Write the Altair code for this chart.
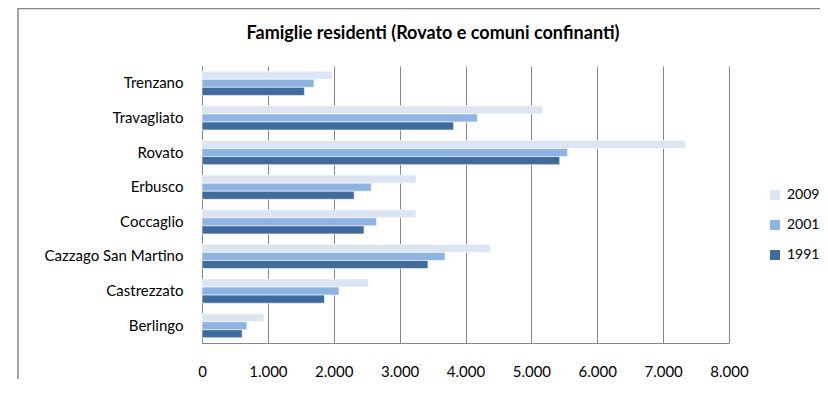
import altair as alt
import pandas as pd

comuni = ["Trenzano", "Travagliato", "Rovato", "Erbusco", "Coccaglio",
          "Cazzago San Martino", "Castrezzato", "Berlingo"]
anni = ["2009", "2001", "1991"]
v2009 = [1975, 5170, 7340, 3250, 3250, 4380, 2530, 940]
v2001 = [1700, 4180, 5550, 2570, 2650, 3690, 2080, 680]
v1991 = [1555, 3820, 5430, 2310, 2460, 3430, 1860, 610]
colori = ["#DCE6F2", "#8EB4E3", "#406B9D"]
x_ticks = [0, 1000, 2000, 3000, 4000, 5000, 6000, 7000, 8000]
titolo = "Famiglie residenti (Rovato e comuni confinanti)"

rows = []
for anno, vals in zip(anni, [v2009, v2001, v1991]):
    for c, v in zip(comuni, vals):
        rows.append({"Comune": c, "Anno": anno, "Famiglie": v})
df = pd.DataFrame(rows)

FONT = "Lato"
GRID = "#868686"

bars = alt.Chart(df).mark_bar(stroke="white", strokeWidth=0.6).encode(
    x=alt.X("Famiglie:Q",
            scale=alt.Scale(domain=[0, 8000], nice=False),
            axis=alt.Axis(values=x_ticks, title=None, grid=True, gridColor=GRID,
                          gridWidth=1, ticks=False, domainColor=GRID,
                          labelFlush=False, labelOverlap=False,
                          labelPadding=21, labelFont=FONT, labelFontSize=15,
                          labelColor="#000000",
                          labelExpr="replace(format(datum.value, ','), ',', '.')")),
    y=alt.Y("Comune:N", sort=comuni,
            scale=alt.Scale(paddingInner=0.3, paddingOuter=0.15),
            axis=alt.Axis(title=None, ticks=False, domainColor=GRID, labelPadding=19,
                          labelFont=FONT, labelFontSize=15, labelColor="#000000")),
    yOffset=alt.YOffset("Anno:N", sort=anni, scale=alt.Scale(paddingInner=0, paddingOuter=0)),
    color=alt.Color("Anno:N", sort=anni,
                    scale=alt.Scale(domain=anni, range=colori),
                    legend=alt.Legend(title=None, orient="none", legendX=566, legendY=122,
                                      symbolType="square", symbolSize=100,
                                      symbolStrokeWidth=0, labelFont=FONT,
                                      labelFontSize=14, labelColor="#000000",
                                      rowPadding=16, labelOffset=5)),
)

frame = alt.Chart(pd.DataFrame({"k": [0]})).mark_rect(
    fill=None, stroke=GRID, strokeWidth=1.5
).encode(x=alt.value(-184), x2=alt.value(700), y=alt.value(-57.5), y2=alt.value(400))

title = alt.Chart(pd.DataFrame({"t": [titolo]})).mark_text(
    font=FONT, fontSize=18, fontWeight="bold", color="#000000",
    align="center", baseline="middle"
).encode(text="t:N", x=alt.value(231), y=alt.value(-32))

chart = alt.layer(frame, bars, title).properties(
    width=527, height=277,
    autosize=alt.AutoSizeParams(type="none"),
    padding={"left": 194, "top": 58, "right": 91, "bottom": 36},
).configure_view(stroke=None)

chart.save("out.html", embed_options={"renderer": "svg", "actions": False})
